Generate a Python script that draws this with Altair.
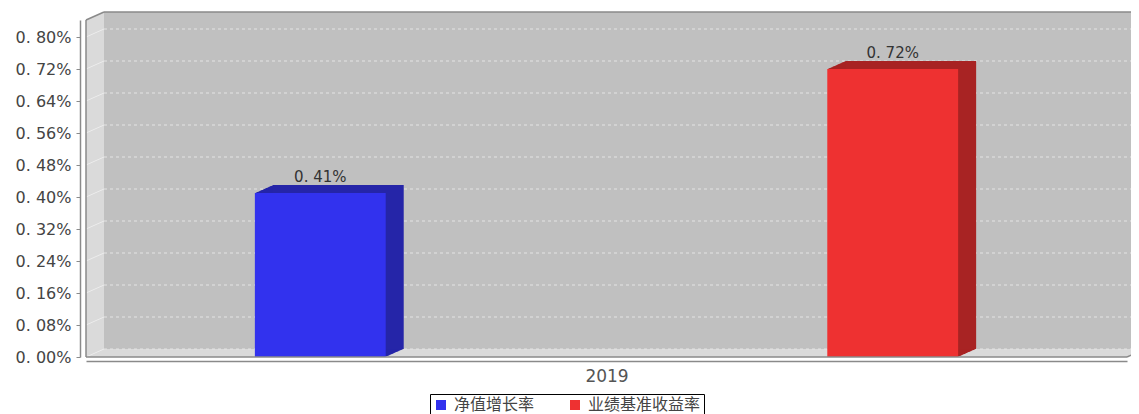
import altair as alt
import pandas as pd

# ---------------- data ----------------
year = "2019"
series = ["净值增长率", "业绩基准收益率"]
values = [0.41, 0.72]
y_ticks = [0.00, 0.08, 0.16, 0.24, 0.32, 0.40, 0.48, 0.56, 0.64, 0.72, 0.80]
y_max = 0.8425

front_colors = ["#3232ee", "#ee3131"]
side_colors = ["#2525a8", "#a82323"]

# ---------------- layout / style ----------------
W, H = 1041, 337
DX, DY = 18, 8
STEPS = 18
LABEL_EXPR = "replace(format(datum.value, '.2f'), '.', '. ') + '%'"

bars = pd.DataFrame({"series": series, "value": values})
grid = pd.DataFrame({"v": y_ticks})
one = pd.DataFrame({"a": [0]})

x_scale = alt.Scale(domain=series, paddingInner=0.7714, paddingOuter=0.295)
y_scale = alt.Scale(domain=[0, y_max], nice=False, zero=True)
# reversed domain so that this (legend-less) scale is never merged with the colour legend
side_scale = alt.Scale(domain=series[::-1], range=side_colors[::-1])

X_AXIS = alt.Axis(
    labels=False, ticks=False, grid=False, offset=4,
    domainColor="#8a8a8a", domainWidth=1.5,
    title=year, titleFont="DejaVu Sans", titleFontSize=17,
    titleFontWeight="normal", titleColor="#555555", titlePadding=7,
)
Y_AXIS = alt.Axis(
    values=y_ticks, labelExpr=LABEL_EXPR, offset=6, tickSize=4,
    labelPadding=5, grid=False, title=None,
    domainColor="#8a8a8a", domainWidth=1.5, tickColor="#8a8a8a",
    labelFont="DejaVu Sans", labelFontSize=16, labelColor="#444444",
)

layers = []


def offs(k):
    return dict(xOffset=k, x2Offset=k, yOffset=-k * DY / STEPS, y2Offset=-k * DY / STEPS)


# walls (left wall + floor) as a staircase of light rects
for k in range(0, STEPS + 1):
    layers.append(
        alt.Chart(one).mark_rect(fill="#dadada", **offs(k)).encode(
            x=alt.value(0), x2=alt.value("width"),
            y=alt.datum(0, scale=y_scale, axis=Y_AXIS), y2=alt.datum(y_max),
        )
    )
# back wall
layers.append(
    alt.Chart(one).mark_rect(fill="#c0c0c0", **offs(STEPS)).encode(
        x=alt.value(0), x2=alt.value("width"),
        y=alt.datum(0, scale=y_scale, axis=Y_AXIS), y2=alt.datum(y_max),
    )
)
# back wall grid lines
layers.append(
    alt.Chart(grid).mark_rule(color="#e4e4e4", strokeDash=[3, 3], strokeWidth=1, **offs(STEPS)).encode(
        x=alt.value(0), x2=alt.value("width"),
        y=alt.Y("v:Q", scale=y_scale, axis=Y_AXIS),
    )
)
# left wall diagonal grid lines
layers.append(
    alt.Chart(grid).mark_rule(color="#ececec", strokeWidth=1, y2Offset=-DY).encode(
        x=alt.value(0), x2=alt.value(DX),
        y=alt.Y("v:Q", scale=y_scale, axis=Y_AXIS), y2=alt.Y2("v:Q"),
    )
)
# frame: back top edge
layers.append(
    alt.Chart(one).mark_rule(color="#8a8a8a", strokeWidth=1.5, **offs(STEPS)).encode(
        x=alt.value(0), x2=alt.value("width"),
        y=alt.datum(y_max, scale=y_scale, axis=Y_AXIS),
    )
)
# frame: top-left diagonal
layers.append(
    alt.Chart(one).mark_rule(color="#8a8a8a", strokeWidth=1.5, y2Offset=-DY).encode(
        x=alt.value(0), x2=alt.value(DX),
        y=alt.datum(y_max, scale=y_scale, axis=Y_AXIS), y2=alt.datum(y_max),
    )
)
# frame: bottom-right diagonal
layers.append(
    alt.Chart(one).mark_rule(color="#8a8a8a", strokeWidth=1.5, x2Offset=DX, y2Offset=-DY).encode(
        x=alt.value("width"), x2=alt.value("width"),
        y=alt.datum(0, scale=y_scale, axis=Y_AXIS), y2=alt.datum(0),
    )
)

# bars: dark side/top faces as staircase
for k in range(1, STEPS + 1):
    layers.append(
        alt.Chart(bars).mark_bar(**offs(k)).encode(
            x=alt.X("series:N", scale=x_scale, axis=X_AXIS),
            y=alt.Y("value:Q", scale=y_scale, axis=Y_AXIS),
            y2=alt.datum(0),
            fill=alt.Fill("series:N", scale=side_scale, legend=None),
        )
    )

# bars: front faces (carry the legend)
layers.append(
    alt.Chart(bars).mark_bar().encode(
        x=alt.X("series:N", scale=x_scale, axis=X_AXIS),
        y=alt.Y("value:Q", scale=y_scale, axis=Y_AXIS),
        y2=alt.datum(0),
        color=alt.Color(
            "series:N",
            scale=alt.Scale(domain=series, range=front_colors),
            legend=alt.Legend(
                orient="none", legendX=344, legendY=374, direction="horizontal",
                title=None, strokeColor="black", fillColor="white", padding=3,
                symbolType="square", symbolSize=100, symbolStrokeWidth=0,
                labelFont="Noto Sans CJK SC", labelFontSize=16, labelColor="#444444",
                labelOffset=5, columnPadding=32,
            ),
        ),
    )
)

# value labels
layers.append(
    alt.Chart(bars).transform_calculate(
        label=LABEL_EXPR
    ).mark_text(font="DejaVu Sans", fontSize=15, color="#333333", baseline="alphabetic", dy=-11).encode(
        x=alt.X("series:N", scale=x_scale, bandPosition=0.5, axis=X_AXIS),
        y=alt.Y("value:Q", scale=y_scale, axis=Y_AXIS),
        text="label:N",
    )
)

# frame: front left and bottom edges
layers.append(
    alt.Chart(one).mark_rule(color="#8a8a8a", strokeWidth=1.5).encode(
        x=alt.value(0),
        y=alt.datum(0, scale=y_scale, axis=Y_AXIS), y2=alt.datum(y_max),
    )
)
layers.append(
    alt.Chart(one).mark_rule(color="#8a8a8a", strokeWidth=1.5).encode(
        x=alt.value(0), x2=alt.value("width"),
        y=alt.datum(0, scale=y_scale, axis=Y_AXIS),
    )
)

chart = alt.layer(*layers).properties(
    width=W, height=H,
    autosize=alt.AutoSizeParams(type="none"),
    padding={"left": 78, "top": 12, "right": 4, "bottom": 57},
    background="white",
).configure_view(stroke=None)

chart.save("out.html", embed_options={"renderer": "svg", "actions": False})
